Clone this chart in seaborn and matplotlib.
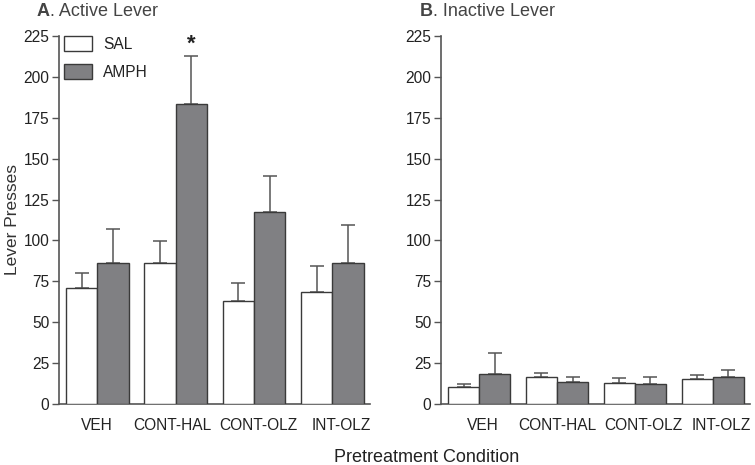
import numpy as np
import pandas as pd
import matplotlib
matplotlib.use("Agg")
import matplotlib.pyplot as plt
import matplotlib.transforms as mtransforms
import seaborn as sns

conditions = ["VEH", "CONT-HAL", "CONT-OLZ", "INT-OLZ"]
groups = ["SAL", "AMPH"]

# active lever: means and SEM (upper error)
active_sal = [70.7, 86.0, 63.0, 68.6]
active_sal_sem = [9.6, 13.8, 11.1, 15.9]
active_amph = [86.0, 183.2, 117.4, 86.0]
active_amph_sem = [20.7, 29.7, 22.0, 23.4]

# inactive lever
inactive_sal = [10.2, 16.5, 13.0, 15.1]
inactive_sal_sem = [2.2, 2.6, 2.7, 2.8]
inactive_amph = [18.5, 13.6, 12.4, 16.5]
inactive_amph_sem = [12.5, 2.9, 4.1, 4.1]

y_ticks = [0, 25, 50, 75, 100, 125, 150, 175, 200, 225]

bar_colors = {"SAL": "white", "AMPH": "#808083"}
edge = "#3a3a3a"
text_col = "#222222"
fs = 11.2

sns.set_style("ticks")
plt.rcParams["font.family"] = ["Liberation Sans", "DejaVu Sans"]


def make_df(sal, amph, sal_sem, amph_sem):
    rows = []
    for c, v, s in zip(conditions, sal, sal_sem):
        rows.append({"cond": c, "grp": "SAL", "val": v, "sem": s})
    for c, v, s in zip(conditions, amph, amph_sem):
        rows.append({"cond": c, "grp": "AMPH", "val": v, "sem": s})
    return pd.DataFrame(rows)


def draw_panel(ax, df, show_legend, label_shift):
    sns.barplot(data=df, x="cond", y="val", hue="grp", order=conditions,
                hue_order=groups, palette=bar_colors, edgecolor=edge,
                linewidth=1.0, width=0.8, errorbar=None, legend=show_legend,
                ax=ax, zorder=3)
    # one-sided error bars, positioned from the drawn bars
    bars = ax.patches[:len(df)]
    for bar, (_, row) in zip(bars, df.iterrows()):
        xc = bar.get_x() + bar.get_width() / 2
        ax.errorbar(xc, row["val"], yerr=[[0], [row["sem"]]], fmt="none",
                    ecolor="#555555", elinewidth=1.1, capsize=5, capthick=1.1,
                    zorder=2)
    ax.set_ylim(0, 225)
    ax.set_yticks(y_ticks)
    ax.set_xlim(-0.49, 3.48)
    ax.set_xlabel("")
    ax.set_ylabel("")
    sns.despine(ax=ax)
    for sp in ["left", "bottom"]:
        ax.spines[sp].set_color("#555555")
        ax.spines[sp].set_linewidth(1.2)
    ax.tick_params(axis="y", length=5, width=1.0, color="#555555",
                   labelsize=fs, labelcolor=text_col, pad=2)
    ax.tick_params(axis="x", length=0, labelsize=fs, labelcolor=text_col, pad=10)
    # nudge category labels sideways (pixels) as in the original layout
    for lab, dx in zip(ax.get_xticklabels(), label_shift):
        off = mtransforms.ScaledTranslation(dx / 100, 0, fig.dpi_scale_trans)
        lab.set_transform(lab.get_transform() + off)
    return bars


fig = plt.figure(figsize=(7.55, 4.65), dpi=100)
ax1 = fig.add_axes([0.0781, 0.1312, 0.4119, 0.7914])
ax2 = fig.add_axes([0.5841, 0.1312, 0.4093, 0.7914])

df_a = make_df(active_sal, active_amph, active_sal_sem, active_amph_sem)
df_b = make_df(inactive_sal, inactive_amph, inactive_sal_sem, inactive_amph_sem)

bars_a = draw_panel(ax1, df_a, True, [-1, -3, 4, 9])
draw_panel(ax2, df_b, False, [4, 0, 9, 9])

leg = ax1.legend(loc="upper left", bbox_to_anchor=(0.016, 1.0), frameon=False,
                 fontsize=fs, handlelength=1.8, handleheight=1.15,
                 handletextpad=0.7, labelspacing=0.75, borderpad=0,
                 borderaxespad=0)
for t in leg.get_texts():
    t.set_color(text_col)

# significance marker above CONT-HAL / AMPH
star_bar = bars_a[len(conditions) + 1]
star_row = df_a.iloc[len(conditions) + 1]
ax1.annotate("*", (star_bar.get_x() + star_bar.get_width() / 2,
                   star_row["val"] + star_row["sem"]),
             xytext=(0, 1), textcoords="offset points", ha="center",
             va="bottom", fontsize=16, fontweight="bold", color=text_col)

ax1.set_ylabel("Lever Presses", fontsize=12.5, color="#333333")
ax1.yaxis.set_label_coords(-0.125, 0.5)

# panel titles
fig.text(37 / 755, 1 - 11 / 465, "A", fontsize=13, fontweight="bold",
         color="#444444", va="center", ha="left")
fig.text(50 / 755, 1 - 11 / 465, ". Active Lever", fontsize=13,
         color="#444444", va="center", ha="left")
fig.text(420 / 755, 1 - 11 / 465, "B", fontsize=13, fontweight="bold",
         color="#444444", va="center", ha="left")
fig.text(433 / 755, 1 - 11 / 465, ". Inactive Lever", fontsize=13,
         color="#444444", va="center", ha="left")

fig.text(427 / 755, 1 - 457 / 465, "Pretreatment Condition", fontsize=13,
         color=text_col, ha="center", va="center")

fig.savefig("out.png", dpi=100)
